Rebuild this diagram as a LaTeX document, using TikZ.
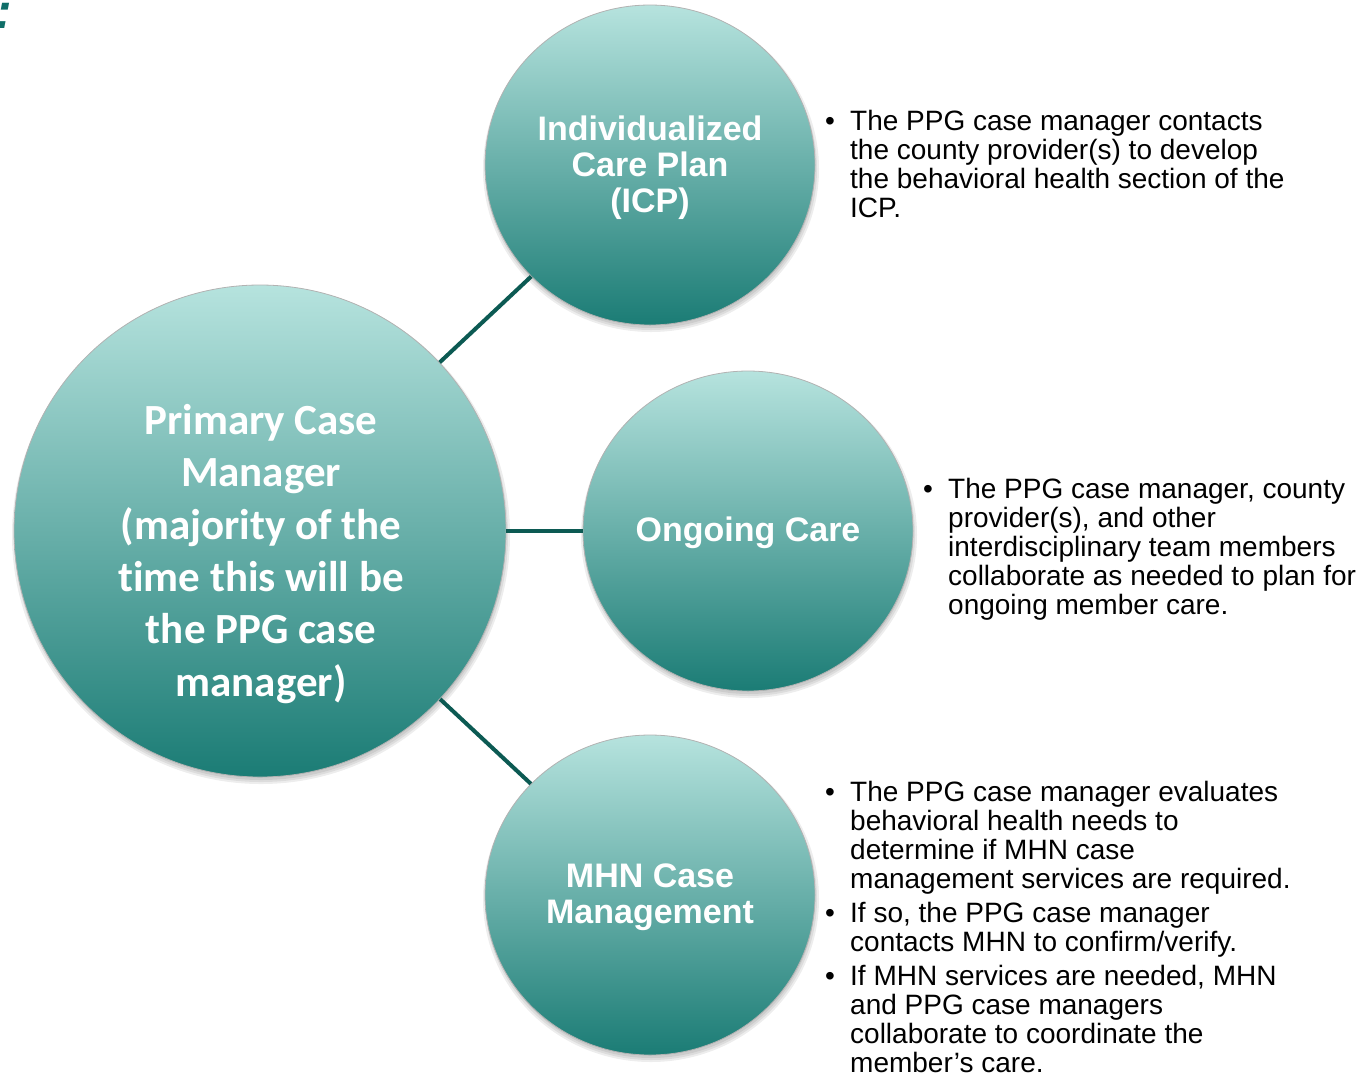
\documentclass[tikz,border=0pt]{standalone}
\usepackage{fontspec}
\setmainfont{Liberation Sans}
\newfontfamily\calibfont[Ligatures=NoCommon]{Carlito}
\usetikzlibrary{shapes.geometric}
\definecolor{tealtop}{HTML}{B6E3DE}
\definecolor{tealbot}{HTML}{1B7C75}
\definecolor{linkcol}{HTML}{0C5A53}
\definecolor{coloncol}{HTML}{0F6E68}
\newcommand{\fstrut}[1]{\rule{0pt}{#1}}
\begin{document}
\begin{tikzpicture}[x=1pt,y=-1pt,
  bubble/.style={ellipse, inner sep=0pt, draw=black!30, line width=0.8pt,
    top color=tealtop, bottom color=tealbot},
  bigbubble/.style={bubble, minimum width=492pt, minimum height=492pt},
  smallbubble/.style={bubble, minimum width=330pt, minimum height=320pt},
  shadowc/.style={fill=black, opacity=0.07},
  link/.style={draw=linkcol, line width=4pt},
  bublabel/.style={text=white, align=center, inner sep=0pt,
    font=\bfseries\fontsize{34}{36}\selectfont},
  biglabel/.style={text=white, align=center, inner sep=0pt,
    font=\calibfont\bfseries\fontsize{43}{52.4}\selectfont},
  bultext/.style={anchor=north west, align=left, inner sep=0pt,
    font=\fontsize{28}{29}\selectfont},
  bulmark/.style={anchor=base, inner sep=0pt, font=\fontsize{28}{29}\selectfont}
]
\useasboundingbox (0,0) rectangle (1362,1072);

% colon fragment at top-left
\node[anchor=base west, inner sep=0pt, text=coloncol,
  font=\bfseries\itshape\fontsize{50}{50}\selectfont] (colon) at (-5,28) {:};

% shadows
\foreach \cx/\cy/\rx/\ry in {260/531/246/246, 650/165/165/160, 748/531/165/160, 650/895/165/160}{
  \foreach \d in {1,3,5}{
    \fill[shadowc] (\cx+1,\cy+4) ellipse [x radius=\rx+\d-2, y radius=\ry+\d-2];
  }
}

% bubbles
\node[bigbubble] (pcm) at (260,531) {};
\node[smallbubble] (icp) at (650,165) {};
\node[smallbubble] (ong) at (748,531) {};
\node[smallbubble] (mhn) at (650,895) {};

% connectors
\draw[link] (pcm) -- (icp);
\draw[link] (pcm) -- (ong);
\draw[link] (pcm) -- (mhn);

% bubble labels
\node[biglabel, anchor=north] (pcmtext) at (261,404)
  {\fstrut{30pt}Primary Case\\Manager\\(majority of the\\time this will be\\the PPG case\\manager)};
\node[bublabel, anchor=north] (icptext) at (650,114)
  {\fstrut{26pt}Individualized\\Care Plan\\(ICP)};
\node[bublabel, anchor=base] (ongtext) at (748,541) {Ongoing Care};
\node[bublabel, anchor=north] (mhntext) at (650,861)
  {\fstrut{26pt}MHN Case\\Management};

% bullet texts
\node[bulmark] (b1) at (830,130) {•};
\node[bultext] (t1) at (850,108)
  {\fstrut{22pt}The PPG case manager contacts\\the county provider(s) to develop\\the behavioral health section of the\\ICP.};

\node[bulmark] (b2) at (928,498) {•};
\node[bultext] (t2) at (948,476)
  {\fstrut{22pt}The PPG case manager, county\\provider(s), and other\\interdisciplinary team members\\collaborate as needed to plan for\\ongoing member care.};

\node[bulmark] (b3) at (830,801) {•};
\node[bultext] (t3) at (850,779)
  {\fstrut{22pt}The PPG case manager evaluates\\behavioral health needs to\\determine if MHN case\\management services are required.};

\node[bulmark] (b4) at (830,922) {•};
\node[bultext] (t4) at (850,900)
  {\fstrut{22pt}If so, the PPG case manager\\contacts MHN to confirm/verify.};

\node[bulmark] (b5) at (830,985) {•};
\node[bultext] (t5) at (850,963)
  {\fstrut{22pt}If MHN services are needed, MHN\\and PPG case managers\\collaborate to coordinate the\\member’s care.};
\end{tikzpicture}
\end{document}
